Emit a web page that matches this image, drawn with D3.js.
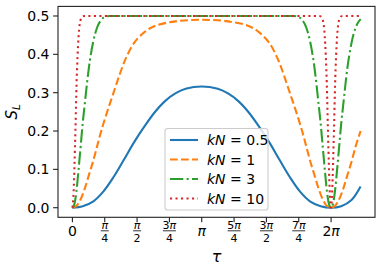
<!DOCTYPE html>
<html><head><meta charset="utf-8">
<script src="https://cdn.jsdelivr.net/npm/d3@7"></script>
<style>body{margin:0;background:#fff}text{font-family:"DejaVu Sans",sans-serif}</style>
</head><body><svg id="c" width="382" height="273"></svg>
<script>
// ---- data ----
const seriesNames = ["0.5", "1", "3", "10"];
const tauBlue = [0,0.25,0.5,0.75,1.0,1.25,1.5,1.75,2.0,2.25,2.5,2.75,3.14,3.53,3.78,4.03,4.28,4.53,4.78,5.03,5.28,5.53,5.78,6.03,6.28,6.53,6.78,7.0];
const sBlue   = [0,0.004,0.016,0.042,0.08,0.125,0.171,0.212,0.249,0.278,0.298,0.31,0.316,0.31,0.298,0.278,0.249,0.212,0.171,0.125,0.08,0.042,0.016,0.004,0,0.004,0.02,0.055];
const tauOrange = [0,0.1,0.2,0.3,0.4,0.5,0.6,0.7,0.85,1.0,1.15,1.3,1.5,1.75,2.0,2.5,3.14,3.78,4.28,4.53,4.78,4.98,5.13,5.28,5.43,5.58,5.68,5.78,5.88,5.98,6.08,6.18,6.28,6.38,6.48,6.58,6.68,6.78,6.88,7.0];
const sOrange   = [0,0.005,0.022,0.05,0.085,0.12,0.16,0.2,0.252,0.3,0.348,0.39,0.43,0.458,0.474,0.486,0.49,0.486,0.474,0.458,0.43,0.39,0.348,0.3,0.252,0.2,0.16,0.12,0.085,0.05,0.022,0.005,0,0.005,0.022,0.05,0.085,0.12,0.16,0.2];
const tauGreen = [0,0.05,0.1,0.15,0.2,0.25,0.3,0.35,0.4,0.5,0.6,0.7,0.8,0.9,5.38,5.48,5.58,5.68,5.78,5.88,5.93,5.98,6.03,6.08,6.13,6.18,6.23,6.28,6.33,6.38,6.43,6.48,6.53,6.58,6.63,6.68,6.78,6.88,7.0];
const sGreen   = [0,0.01,0.045,0.1,0.16,0.22,0.27,0.32,0.365,0.43,0.47,0.49,0.498,0.5,0.5,0.498,0.49,0.47,0.43,0.365,0.32,0.27,0.22,0.16,0.1,0.045,0.01,0,0.01,0.045,0.1,0.16,0.22,0.27,0.32,0.365,0.43,0.47,0.492];
const tauRed = [0,0.03,0.05,0.075,0.1,0.125,0.15,0.175,0.2,0.25,0.3,5.98,6.03,6.08,6.105,6.13,6.155,6.18,6.205,6.23,6.25,6.28,6.31,6.33,6.355,6.38,6.405,6.43,6.455,6.48,6.53,6.58,7.0];
const sRed   = [0,0.043,0.11,0.21,0.32,0.395,0.447,0.477,0.49,0.499,0.5,0.5,0.499,0.49,0.477,0.447,0.395,0.32,0.21,0.11,0.043,0,0.043,0.11,0.21,0.32,0.395,0.447,0.477,0.49,0.499,0.5,0.5];
const xTickLabels = ["0","π/4","π/2","3π/4","π","5π/4","3π/2","7π/4","2π"];
const yTickValues = [0,0.1,0.2,0.3,0.4,0.5];

// ---- layout ----
const svg = d3.select("#c");
const L = 58, R = 375, T = 6.4, B = 217.3;
const x = d3.scaleLinear().domain([-0.35, 7.35]).range([L, R]);
const y = d3.scaleLinear().domain([-0.025, 0.525]).range([B, T]);
const lw = 2.08;
const series = [
  {tau: tauBlue, s: sBlue, color: "#1f77b4", dash: null, curve: d3.curveCatmullRom.alpha(0.5)},
  {tau: tauOrange, s: sOrange, color: "#ff7f0e", dash: "7.7,3.3", curve: d3.curveCatmullRom.alpha(0.5)},
  {tau: tauGreen, s: sGreen, color: "#2ca02c", dash: "13.3,3.3,2.1,3.3", curve: d3.curveMonotoneX},
  {tau: tauRed, s: sRed, color: "#d62728", dash: "2.1,3.4", curve: d3.curveMonotoneX}
];
const plot = svg.append("g");
series.forEach(se => {
  const pts = se.tau.map((t, i) => [t, se.s[i]]);
  const line = d3.line().x(d => x(d[0])).y(d => y(d[1])).curve(se.curve);
  plot.append("path").attr("d", line(pts)).attr("fill", "none")
    .attr("stroke", se.color).attr("stroke-width", lw)
    .attr("stroke-dasharray", se.dash).attr("stroke-linecap", "butt");
});

// frame
svg.append("rect").attr("x", L).attr("y", T).attr("width", R - L).attr("height", B - T)
  .attr("fill", "none").attr("stroke", "#222").attr("stroke-width", 1.1);

// y axis ticks
const yAxis = svg.append("g");
yTickValues.forEach(v => {
  yAxis.append("line").attr("x1", L - 4.9).attr("x2", L).attr("y1", y(v)).attr("y2", y(v))
    .attr("stroke", "#222").attr("stroke-width", 1.1);
  yAxis.append("text").attr("x", L - 8.5).attr("y", y(v)).attr("dy", "0.36em")
    .attr("text-anchor", "end").attr("font-size", 14).attr("fill", "#000").text(d3.format(".1f")(v));
});

// x axis ticks
const xAxis = svg.append("g");
xTickLabels.forEach((lab, i) => {
  const t = i * Math.PI / 4, px = x(t);
  xAxis.append("line").attr("x1", px).attr("x2", px).attr("y1", B).attr("y2", B + 4.9)
    .attr("stroke", "#222").attr("stroke-width", 1.1);
  if (lab.includes("/")) {
    const [num, den] = lab.split("/");
    const g = xAxis.append("g").attr("transform", `translate(${px},0)`);
    const nt = g.append("text").attr("x", 0).attr("y", 228.8).attr("text-anchor", "middle")
      .attr("font-size", 11).attr("fill", "#000");
    if (num.length > 1) { nt.append("tspan").text(num.slice(0, -1)); }
    nt.append("tspan").attr("font-style", "italic").text("π");
    const w = num.length > 1 ? 13 : 8;
    g.append("line").attr("x1", -w / 2).attr("x2", w / 2).attr("y1", 230.8).attr("y2", 230.8)
      .attr("stroke", "#000").attr("stroke-width", 0.8);
    g.append("text").attr("x", 0).attr("y", 241.8).attr("text-anchor", "middle")
      .attr("font-size", 11).attr("fill", "#000").text(den);
  } else {
    const tt = xAxis.append("text").attr("x", px).attr("y", 236).attr("text-anchor", "middle")
      .attr("font-size", 14).attr("fill", "#000");
    if (lab === "0") tt.text("0");
    else {
      if (lab.length > 1) tt.append("tspan").text(lab.slice(0, -1));
      tt.append("tspan").attr("font-style", "italic").text("π");
    }
  }
});

// axis labels
svg.append("text").attr("x", (L + R) / 2).attr("y", 261.5).attr("text-anchor", "middle")
  .attr("font-size", 16).attr("font-style", "italic").attr("fill", "#000").text("τ");
const yl = svg.append("text").attr("transform", `translate(17,${(T + B) / 2}) rotate(-90)`)
  .attr("text-anchor", "middle").attr("font-size", 15).attr("fill", "#000");
yl.append("tspan").attr("font-style", "italic").text("S");
yl.append("tspan").attr("font-style", "italic").attr("font-size", 10.5).attr("dy", 3).text("L");

// legend
const lg = svg.append("g");
lg.append("rect").attr("x", 165).attr("y", 128.5).attr("width", 103).attr("height", 81.5)
  .attr("rx", 2.8).attr("fill", "#fff").attr("fill-opacity", 0.8)
  .attr("stroke", "#ccc").attr("stroke-width", 1.1);
series.forEach((se, i) => {
  const ry = 140 + i * 19.5;
  lg.append("line").attr("x1", 170).attr("x2", 198).attr("y1", ry).attr("y2", ry)
    .attr("stroke", se.color).attr("stroke-width", lw).attr("stroke-dasharray", se.dash);
  const t = lg.append("text").attr("x", 207).attr("y", ry + 5).attr("font-size", 14).attr("fill", "#000");
  t.append("tspan").attr("font-style", "italic").text("kN");
  t.append("tspan").text(" = " + seriesNames[i]);
});
</script></body></html>
